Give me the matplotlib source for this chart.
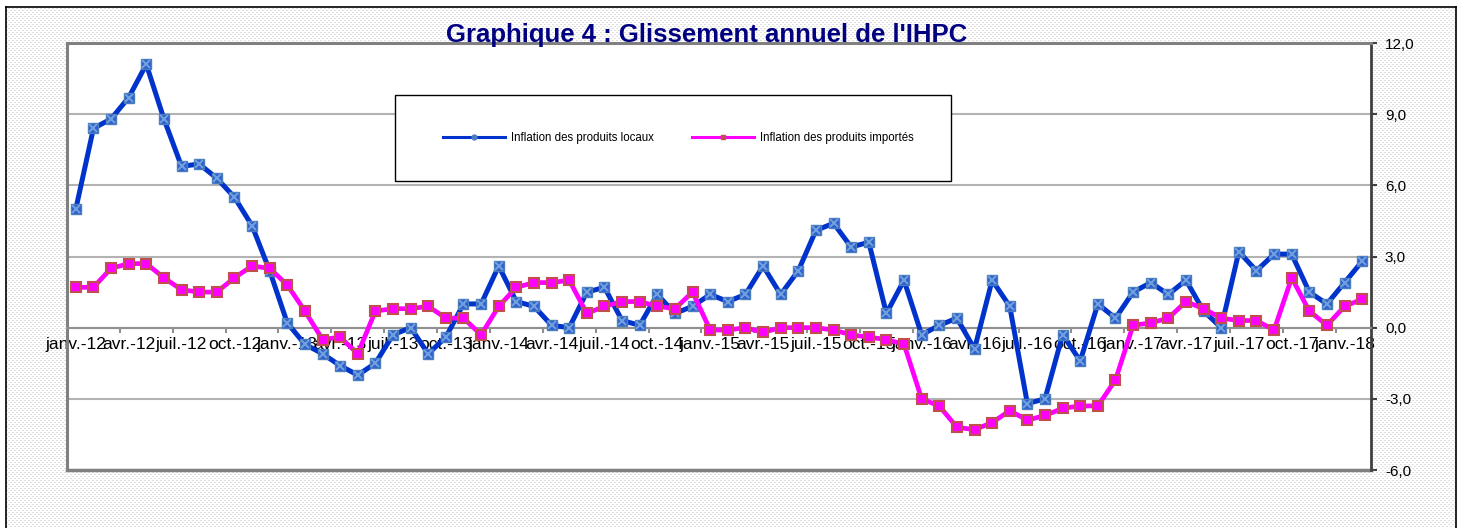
import numpy as np
import matplotlib
matplotlib.use("Agg")
import matplotlib.pyplot as plt
from matplotlib.lines import Line2D
from matplotlib.patches import Rectangle

plt.rcParams['font.family'] = ['Liberation Sans', 'DejaVu Sans']

# monthly data, janv. 2012 -> févr. 2018
mois = ['janv.', 'févr.', 'mars', 'avr.', 'mai', 'juin',
        'juil.', 'août', 'sept.', 'oct.', 'nov.', 'déc.']
annees = ['12', '13', '14', '15', '16', '17', '18']
periodes = [m + '-' + a for a in annees for m in mois][:74]

locaux = [5.0, 8.4, 8.8, 9.7, 11.1, 8.8, 6.8, 6.9, 6.3, 5.5, 4.3, 2.4,
          0.2, -0.7, -1.1, -1.6, -2.0, -1.5, -0.3, 0.0, -1.1, -0.4, 1.0, 1.0,
          2.6, 1.1, 0.9, 0.1, 0.0, 1.5, 1.7, 0.3, 0.1, 1.4, 0.6, 0.9,
          1.4, 1.1, 1.4, 2.6, 1.4, 2.4, 4.1, 4.4, 3.4, 3.6, 0.6, 2.0,
          -0.3, 0.1, 0.4, -0.9, 2.0, 0.9, -3.2, -3.0, -0.3, -1.4, 1.0, 0.4,
          1.5, 1.9, 1.4, 2.0, 0.7, 0.0, 3.2, 2.4, 3.1, 3.1, 1.5, 1.0,
          1.9, 2.8]
importes = [1.7, 1.7, 2.5, 2.7, 2.7, 2.1, 1.6, 1.5, 1.5, 2.1, 2.6, 2.5,
            1.8, 0.7, -0.5, -0.4, -1.1, 0.7, 0.8, 0.8, 0.9, 0.4, 0.4, -0.3,
            0.9, 1.7, 1.9, 1.9, 2.0, 0.6, 0.9, 1.1, 1.1, 0.9, 0.8, 1.5,
            -0.1, -0.1, 0.0, -0.2, 0.0, 0.0, 0.0, -0.1, -0.3, -0.4, -0.5, -0.7,
            -3.0, -3.3, -4.2, -4.3, -4.0, -3.5, -3.9, -3.7, -3.4, -3.3, -3.3, -2.2,
            0.1, 0.2, 0.4, 1.1, 0.8, 0.4, 0.3, 0.3, -0.1, 2.1, 0.7, 0.1,
            0.9, 1.2]

y_ticks = [-6, -3, 0, 3, 6, 9, 12]
titre = "Graphique 4 : Glissement annuel de l'IHPC"
noms = ['Inflation des produits locaux', 'Inflation des produits importés']

W, H = 1463, 528
fig = plt.figure(figsize=(W / 100, H / 100), dpi=100)

# dotted background inside the outer frame
yy, xx = np.mgrid[0:H, 0:W]
dots = (yy % 2 == 0) & (((xx + 2 * ((yy // 2) % 2)) % 4) < 2)
bg = np.ones((H, W, 3))
bg[dots] = 0.88
bg[:, :6] = 1.0
bg[:7, :] = 1.0
bg[:, 1456:] = 1.0
fig.figimage(bg, xo=0, yo=0, zorder=-10, origin='upper')

# outer frame
fx = lambda p: p / W
fy = lambda p: 1 - p / H
for xs, ys in [([fx(5.5), fx(5.5)], [fy(6.5), 0]),
               ([fx(5.5), fx(1455.5)], [fy(6.5), fy(6.5)]),
               ([fx(1455.5), fx(1455.5)], [fy(6.5), 0])]:
    fig.add_artist(Line2D(xs, ys, color='black', lw=1.2, transform=fig.transFigure))

ax = fig.add_axes([fx(67), fy(470), (1371 - 67) / W, (470 - 43) / H])
ax.set_facecolor('white')

x = np.arange(len(locaux))
ax.plot(x, locaux, color='#0033cc', lw=3.6, marker='s', ms=7.5,
        mfc='#2f5fd0', mec='#4a7ebb', mew=1.0, zorder=3)
ax.plot(x, locaux, ls='none', marker='x', ms=6, mec='#6f9fdc', mew=1.5, zorder=3.1)
ax.plot(x, importes, color='#ff00ff', lw=3.4, marker='s', ms=6.8,
        mfc='#ff00ff', mec='#c0504d', mew=1.5, zorder=4)

ax.set_xlim(-0.5, len(locaux) - 0.5)
ax.set_ylim(-6, 12)

# right value axis
ax.yaxis.tick_right()
ax.set_yticks(y_ticks)
ax.set_yticklabels([f"{v:.1f}".replace('.', ',') for v in y_ticks], fontsize=11)
ax.tick_params(axis='y', which='major', length=4, width=1.5, color='#404040', pad=6)
ax.grid(axis='y', color='#b3b3b3', lw=1.5, zorder=1)

# category axis crossing at zero
ax.spines['bottom'].set_position(('data', 0))
ax.spines['bottom'].set_color('#909090')
ax.spines['bottom'].set_linewidth(1.5)
ax.set_xticks(np.arange(2.5, len(locaux) - 1, 3))
ax.set_xticklabels([])
ax.set_xticks(np.arange(0, len(locaux), 3), minor=True)
ax.set_xticklabels(periodes[::3], minor=True, fontsize=12.5)
ax.tick_params(axis='x', which='major', length=3.5, width=1.5, color='#909090', direction='out')
ax.tick_params(axis='x', which='minor', length=0, pad=7)

ax.spines['right'].set_color('#404040')
ax.spines['right'].set_linewidth(2)
for s in ['left', 'top']:
    ax.spines[s].set_color('#808080')
    ax.spines[s].set_linewidth(2.2)
ax.axhline(-6, color='#808080', lw=2.5, clip_on=False, zorder=2)

fig.text(fx(707), fy(42), titre, ha='center', va='baseline',
         fontsize=18.5, fontweight='bold', color='#000080')

# legend box
fig.add_artist(Rectangle((fx(395), fy(181)), (951 - 395) / W, (181 - 95) / H,
                         transform=fig.transFigure, facecolor='white',
                         edgecolor='black', lw=1.0, zorder=4))
handles = [Line2D([], [], color='#0033cc', lw=2.2, marker='o', ms=3.5,
                  mfc='#4a7ebb', mec='#4a7ebb'),
           Line2D([], [], color='#ff00ff', lw=2.2, marker='s', ms=3.5,
                  mfc='#c0504d', mec='#c0504d')]
fig.legend(handles, noms, loc='center', bbox_to_anchor=(fx(678), fy(138)),
           ncol=2, frameon=False, fontsize=8.3, handlelength=5.4,
           handletextpad=0.5, columnspacing=3.3)

fig.savefig('out.png', dpi=100)
